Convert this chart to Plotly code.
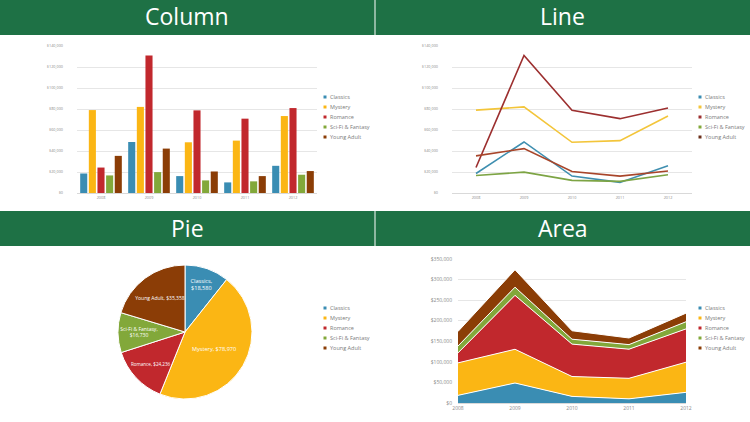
import plotly.graph_objects as go

# ---------------- data ----------------
years = ["2008", "2009", "2010", "2011", "2012"]
genres = ["Classics", "Mystery", "Romance", "Sci-Fi & Fantasy", "Young Adult"]
classics = [18580, 48600, 16100, 10100, 25900]
mystery = [78970, 82000, 48300, 49900, 73300]
romance = [24236, 131000, 78700, 70800, 80900]
scifi = [16730, 19900, 12000, 11100, 17400]
young_adult = [35358, 42300, 20500, 16100, 20900]
pie_values = [18580, 78970, 24236, 16730, 35358]
panel_titles = ["Column", "Line", "Pie", "Area"]

series = [classics, mystery, romance, scifi, young_adult]
colors = ["#3A8DB3", "#FBB614", "#C1282D", "#82A83A", "#8B3D06"]
line_colors = ["#3F8FB0", "#F3C53A", "#9C2F2F", "#7DA444", "#A8452A"]
legend_line_colors = ["#3A8DB3", "#F3C53A", "#9C2F2F", "#82A83A", "#6B2F1A"]

W, H = 750, 422


def px(x):
    return x / W


def py(y):
    return 1 - y / H


fig = go.Figure()

# ---------------- Column ----------------
for name, vals, c in zip(genres, series, colors):
    fig.add_trace(go.Bar(x=years, y=vals, name=name, marker=dict(color=c, line=dict(width=0)),
                         xaxis="x", yaxis="y", showlegend=False))

# ---------------- Line ----------------
for name, vals, c in zip(genres, series, line_colors):
    fig.add_trace(go.Scatter(x=years, y=vals, name=name, mode="lines",
                             line=dict(color=c, width=1.6),
                             xaxis="x2", yaxis="y2", showlegend=False))

# ---------------- Pie ----------------
pie_text = []
for g, v in zip(genres, pie_values):
    g_html = g.replace("&", "&amp;")
    if g in ("Classics", "Sci-Fi & Fantasy"):
        pie_text.append(f"{g_html},<br>${v:,}")
    else:
        pie_text.append(f"{g_html}, ${v:,}")
fig.add_trace(go.Pie(labels=genres, values=pie_values, text=pie_text,
                     textinfo="text", textposition="inside",
                     insidetextorientation="horizontal",
                     textfont=dict(color="white", size=5.6, family="Open Sans"),
                     marker=dict(colors=colors, line=dict(color="white", width=1)),
                     sort=False, direction="clockwise", rotation=0,
                     domain=dict(x=[px(118), px(252)], y=[py(399), py(265)]),
                     showlegend=False, hoverinfo="label+value"))

# ---------------- Area ----------------
for name, vals, c in zip(genres, series, colors):
    fig.add_trace(go.Scatter(x=years, y=vals, name=name, mode="lines",
                             stackgroup="one", fillcolor=c,
                             line=dict(color="white", width=1),
                             xaxis="x3", yaxis="y3", showlegend=False))

small_tick = dict(size=3.8, color="#8a8a8a", family="Open Sans")
area_tick = dict(size=5, color="#8a8a8a", family="Open Sans")
grid = "#e6e6e6"

layout = dict(
    width=W, height=H, margin=dict(l=0, r=0, t=0, b=0, pad=0, autoexpand=False),
    paper_bgcolor="white", plot_bgcolor="white", showlegend=False,
    barmode="group", bargap=0.1, bargroupgap=0.18,
    xaxis=dict(domain=[px(77), px(317)], anchor="y", type="category", automargin=False,
               showline=True, linecolor="#d9d9d9", linewidth=1, ticks="",
               tickfont=small_tick, showgrid=False, fixedrange=True),
    yaxis=dict(domain=[py(193), py(46)], anchor="x", range=[0, 140000], dtick=20000,
               tickprefix="$", tickformat=",d", gridcolor=grid, gridwidth=1, automargin=False,
               showline=False, zeroline=False, tickfont=small_tick,
               ticklabelstandoff=13, fixedrange=True),
    xaxis2=dict(domain=[px(452), px(692)], anchor="y2", type="category", automargin=False,
                range=[-0.5, 4.5],
                showline=True, linecolor="#d9d9d9", linewidth=1, ticks="",
                tickfont=small_tick, showgrid=False, fixedrange=True),
    yaxis2=dict(domain=[py(193), py(46)], anchor="x2", range=[0, 140000], dtick=20000,
                tickprefix="$", tickformat=",d", gridcolor=grid, gridwidth=1, automargin=False,
                showline=False, zeroline=False, tickfont=small_tick,
                ticklabelstandoff=13, fixedrange=True),
    xaxis3=dict(domain=[px(458), px(686)], anchor="y3", type="category", automargin=False,
                range=[0, 4], showline=True, linecolor="#d9d9d9", linewidth=1,
                ticks="", tickfont=area_tick, showgrid=False, fixedrange=True),
    yaxis3=dict(domain=[py(403), py(259)], anchor="x3", range=[0, 350000], dtick=50000,
                tickprefix="$", tickformat=",d", gridcolor=grid, gridwidth=1, automargin=False,
                showline=False, zeroline=False, tickfont=area_tick,
                ticklabelstandoff=5, fixedrange=True),
)

# headers
header_green = "#1E7145"
shapes = []
annotations = []
header_boxes = [(0, 374.5, 0, 35), (375.5, 750, 0, 35), (0, 374.5, 211, 246), (375.5, 750, 211, 246)]
for (x0, x1, y0, y1), t in zip(header_boxes, panel_titles):
    shapes.append(dict(type="rect", xref="paper", yref="paper", x0=px(x0), x1=px(x1),
                       y0=py(y1), y1=py(y0), fillcolor=header_green, line=dict(width=0)))
    annotations.append(dict(text=t, xref="paper", yref="paper", x=px((x0 + x1) / 2),
                            y=py((y0 + y1) / 2 - 1), xanchor="center", yanchor="middle",
                            showarrow=False,
                            font=dict(size=23, color="white", family="Open Sans")))

# legends
legend_origins = [(325, 97, colors), (700, 97, legend_line_colors),
                  (325, 308, colors), (700, 308, colors)]
for lx, ly, cols in legend_origins:
    for i, (g, c) in enumerate(zip(genres, cols)):
        yy = ly + i * 10
        shapes.append(dict(type="rect", xref="paper", yref="paper",
                           x0=px(lx - 1.5), x1=px(lx + 1.5), y0=py(yy + 1.5), y1=py(yy - 1.5),
                           fillcolor=c, line=dict(width=0)))
        annotations.append(dict(text=g.replace("&", "&amp;"), xref="paper", yref="paper",
                                x=px(lx + 3), y=py(yy), xanchor="left", yanchor="middle",
                                showarrow=False,
                                font=dict(size=5.5, color="#7a7a7a", family="Open Sans")))

layout["shapes"] = shapes
layout["annotations"] = annotations
fig.update_layout(**layout)

fig.write_html("out.html")
